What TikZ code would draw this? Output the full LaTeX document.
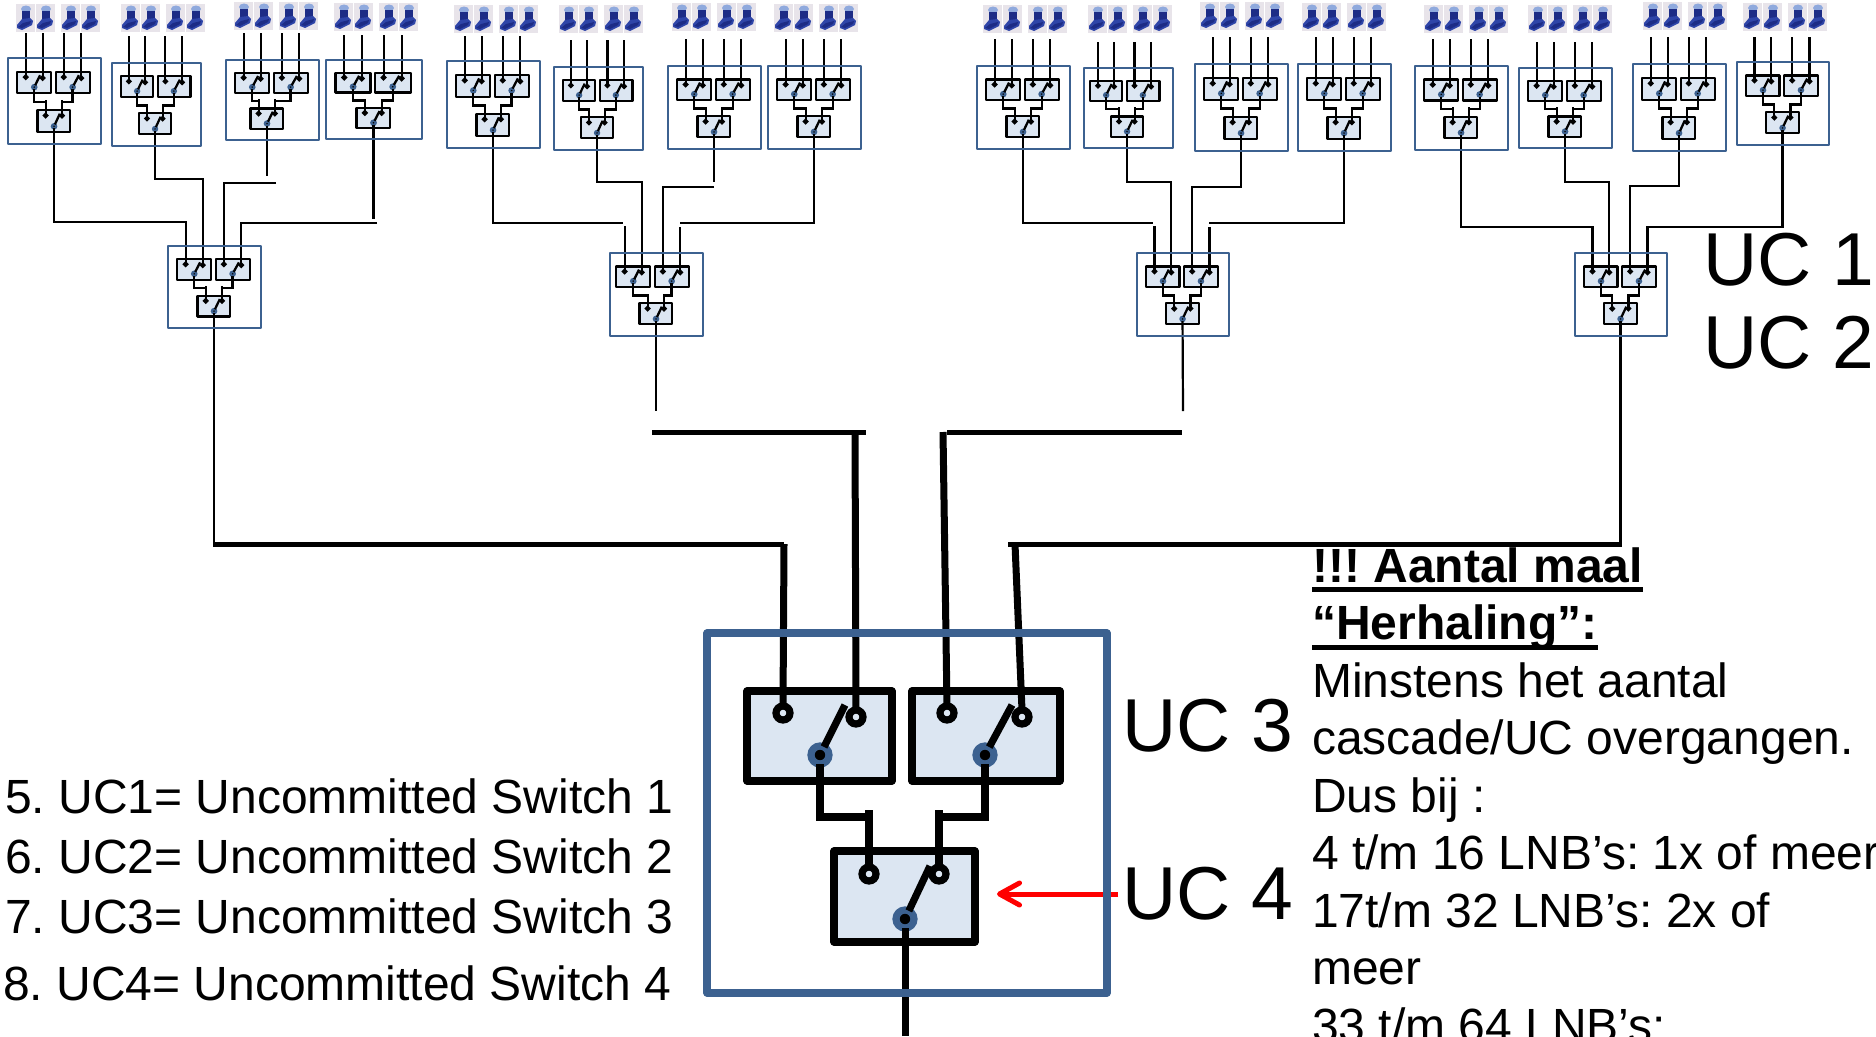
\documentclass[tikz,border=0pt]{standalone}
\usepackage{fontspec}
\setmainfont{Liberation Sans}
\frenchspacing
\usetikzlibrary{
	arrows.meta
}
\definecolor{frameblue}{HTML}{3C6190}
\definecolor{boxfill}{HTML}{DCE6F2}
\definecolor{lnbgrey}{HTML}{E8E4EA}
\definecolor{lnbdome}{HTML}{8FA9DD}
\definecolor{lnbnavy}{HTML}{1D2C86}
\definecolor{lnbfoot}{HTML}{2F45A8}
\pgfdeclarelayer{frames}
\pgfsetlayers{main,frames}

\newcommand{\thickunder}[1]{\setbox0=\hbox{#1}\rlap{\rule[-10pt]{\wd0}{5pt}}\box0}

\tikzset{
    ucframe/.style={rectangle, draw=frameblue, inner sep=0pt, outer sep=0pt, line join=round, line width=\lw pt},
    swbox/.style={rectangle, draw=black, fill=boxfill, inner sep=0pt, outer sep=0pt, line join=round},
    contact/.style={circle, draw=black, fill=\contactfill, inner sep=0pt, outer sep=0pt, minimum size=14*\sx},
    pivot/.style={circle, draw=frameblue, fill=black, inner sep=0pt, outer sep=0pt, minimum size=18*\sx},
    lnbbg/.style={rectangle, fill=lnbgrey, inner sep=0pt, outer sep=0pt, minimum width=19, minimum height=28},
    thinwire/.style={line width=2.2pt},
    busline/.style={line width=5pt},
    busdrop/.style={line width=7pt},
    bigtext/.style={anchor=base west, inner sep=0pt, font=\fontsize{75}{75}\selectfont},
    listtext/.style={anchor=base west, inner sep=0pt, font=\fontsize{48}{57.5}\selectfont},
    notetext/.style={anchor=north west, align=left, inner sep=0pt, font=\fontsize{48}{57.5}\selectfont},
    redarrow/.style={red, line width=5pt, -{Straight Barb[length=20pt,width=22pt,round]}}
}

% one switch unit: name, left, top, width, height, shift of upper switches, shift of lower switch
\newcommand{\ucunit}[7]{%
  \pgfmathsetmacro{\sx}{#4/400}%
  \pgfmathsetmacro{\sy}{#5/360}%
  \pgfmathsetmacro{\lw}{0.8+6.4*\sx}%
  \ifdim#4pt<200pt \def\contactfill{black}\else\def\contactfill{boxfill}\fi
  \begin{pgfonlayer}{frames}
  \node[ucframe, minimum width=#4, minimum height=#5] (#1) at ({#2+#4/2},{#3+#5/2}) {};
  \end{pgfonlayer}
  \begin{scope}[line width=\lw pt]
  \begin{scope}[xshift=#6]
  \node[swbox, minimum width=145*\sx, minimum height=90*\sy] (#1-s1) at ({#2+112.5*\sx},{#3+103*\sy}) {};
  \node[swbox, minimum width=148*\sx, minimum height=90*\sy] (#1-s2) at ({#2+279*\sx},{#3+103*\sy}) {};
  \node[contact] (#1-a) at ({#2+76*\sx},{#3+80*\sy}) {};
  \node[contact] (#1-b) at ({#2+149*\sx},{#3+84*\sy}) {};
  \node[contact] (#1-c) at ({#2+240*\sx},{#3+80*\sy}) {};
  \node[contact] (#1-d) at ({#2+315*\sx},{#3+84*\sy}) {};
  \node[pivot] (#1-p1) at ({#2+113*\sx},{#3+122*\sy}) {};
  \node[pivot] (#1-p2) at ({#2+278*\sx},{#3+122*\sy}) {};
  \draw (#1-p1) -- ({#2+138*\sx},{#3+72*\sy});
  \draw (#1-p2) -- ({#2+305*\sx},{#3+72*\sy});
  \end{scope}
  \begin{scope}[xshift=#7]
  \node[swbox, minimum width=141*\sx, minimum height=91*\sy] (#1-s3) at ({#2+197.5*\sx},{#3+263.5*\sy}) {};
  \node[contact] (#1-e) at ({#2+162*\sx},{#3+241*\sy}) {};
  \node[contact] (#1-f) at ({#2+232*\sx},{#3+241*\sy}) {};
  \node[pivot] (#1-out) at ({#2+198*\sx},{#3+286*\sy}) {};
  \draw (#1-out) -- ({#2+223*\sx},{#3+233*\sy});
  \end{scope}
  % inner wires
  \draw (#1-p1.south) |- (#1-e.north |- 0,{#3+184*\sy});
  \draw (#1-p2.south) |- (#1-f.north |- 0,{#3+184*\sy});
  \draw (#1-e.north) -- ++(0,{-57*\sy});
  \draw (#1-f.north) -- ++(0,{-57*\sy});
  \end{scope}
}

% one LNB picture
\newcommand{\lnbicon}[3]{%
  \node[lnbbg] (#1) at (#2,#3) {};
  \begin{scope}[shift={(#1.center)}]
  \fill[lnbdome] (1,-9) ellipse (5 and 3.5);
  \fill[lnbnavy] (-3.5,-7) -- (4.5,-7) -- (4.5,2) -- (-3.5,2) -- cycle;
  \fill[lnbfoot] (-8,7) -- (-3,1) -- (5,0) -- (8,3) -- (7,7) -- (-3,12) -- (-8,10) -- cycle;
  \fill[lnbnavy] (-7,9) -- (-2,5) -- (6,3) -- (5,6) -- (-3,10) -- cycle;
  \end{scope}
}

% four LNB's above a unit: unit, x of first, y, top of the wires
\newcommand{\lnbrow}[4]{%
  \lnbicon{#1-l1}{#2}{#3}
  \lnbicon{#1-l2}{#2+20}{#3}
  \lnbicon{#1-l3}{#2+45}{#3}
  \lnbicon{#1-l4}{#2+65}{#3}
  \draw[thinwire] (#1-a.north |- 0,#4) -- (#1-a.north);
  \draw[thinwire] (#1-b.north |- 0,#4) -- (#1-b.north);
  \draw[thinwire] (#1-c.north |- 0,#4) -- (#1-c.north);
  \draw[thinwire] (#1-d.north |- 0,#4) -- (#1-d.north);
}

\begin{document}
\begin{tikzpicture}[x=1pt, y=-1pt]
\clip (0,0) rectangle (1876,1036);

% Units
\ucunit{TA}{8}{58}{93}{86}{0}{0}
\ucunit{TB}{112}{63}{89}{83}{0}{-1}
\ucunit{TC}{226}{60}{93}{80}{0}{-5}
\ucunit{TD}{326}{60}{96}{79}{0}{0}
\ucunit{TE}{447}{61}{93}{87}{0}{0}
\ucunit{TF}{554}{67}{89}{83}{0}{-1}
\ucunit{TG}{668}{66}{93}{83}{0}{0}
\ucunit{TH}{768}{66}{93}{83}{0}{0}
\ucunit{TI}{977}{66}{93}{83}{0}{0}
\ucunit{TJ}{1084}{68}{89}{80}{-3}{-1}
\ucunit{TK}{1195}{64}{93}{87}{0}{0}
\ucunit{TL}{1298}{64}{93}{87}{0}{0}
\ucunit{TM}{1415}{66}{93}{84}{0}{0}
\ucunit{TN}{1519}{68}{93}{80}{0}{0}
\ucunit{TO}{1633}{64}{93}{87}{0}{0}
\ucunit{TP}{1737}{62}{92}{83}{0}{0}
\ucunit{MA}{168}{246}{93}{82}{0}{0}
\ucunit{MB}{610}{253}{93}{83}{-3}{0}
\ucunit{MC}{1137}{253}{92}{83}{0}{0}
\ucunit{MD}{1575}{253}{92}{83}{0}{0}
\ucunit{main}{707}{633}{400}{360}{0}{0}

% LNB's
\lnbrow{TA}{25}{18}{33}
\lnbrow{TB}{130}{18}{36}
\lnbrow{TC}{243}{16}{33}
\lnbrow{TD}{343}{17}{35}
\lnbrow{TE}{463}{19}{36}
\lnbrow{TF}{568}{19}{40}
\lnbrow{TG}{681}{17}{39}
\lnbrow{TH}{783}{18}{39}
\lnbrow{TI}{992}{19}{39}
\lnbrow{TJ}{1097}{19}{42}
\lnbrow{TK}{1209}{16}{37}
\lnbrow{TL}{1311}{17}{37}
\lnbrow{TM}{1433}{19}{39}
\lnbrow{TN}{1537}{19}{42}
\lnbrow{TO}{1652}{16}{37}
\lnbrow{TP}{1752}{17}{37}

% Free ends
\coordinate (gapcup) at (266,176);
\coordinate (gapcdown) at (276,183);
\coordinate (gapdup) at (374,219);
\coordinate (gapddown) at (377,223);
\coordinate (gapeup) at (623,223);
\coordinate (gapedown) at (624,226);
\coordinate (gapgup) at (714,182);
\coordinate (gapgdown) at (714,187);
\coordinate (gaphup) at (680,223);
\coordinate (gaphdown) at (680,227);
\coordinate (gapiup) at (1153,223);
\coordinate (gapidown) at (1154,226);
\coordinate (gaplup) at (1209,223);
\coordinate (gapldown) at (1210,227);

% Connections to the middle row
\draw[thinwire] (TA-out.south) -- (TA-out.south |- 0,222) -| (MA-a.north);
\draw[thinwire] (TB-out.south) -- (TB-out.south |- 0,179) -| (MA-b.north);
\draw[thinwire] (TC-out.south) -- (TC-out.south |- gapcup);
\draw[thinwire] (gapcdown) -| (MA-c.north);
\draw[thinwire] (TD-out.south) -- (TD-out.south |- gapdup);
\draw[thinwire] (gapddown) -| (MA-d.north);

\draw[thinwire] (TE-out.south) |- (gapeup);
\draw[thinwire] (MB-a.north |- gapedown) -- (MB-a.north);
\draw[thinwire] (TF-out.south) -- (TF-out.south |- 0,182) -| (MB-b.north);
\draw[thinwire] (TG-out.south) -- (TG-out.south |- gapgup);
\draw[thinwire] (gapgdown) -| (MB-c.north);
\draw[thinwire] (TH-out.south) |- (gaphup);
\draw[thinwire] (MB-d.north |- gaphdown) -- (MB-d.north);

\draw[thinwire] (TI-out.south) |- (gapiup);
\draw[thinwire] (MC-a.north |- gapidown) -- (MC-a.north);
\draw[thinwire] (TJ-out.south) -- (TJ-out.south |- 0,182) -| (MC-b.north);
\draw[thinwire] (TK-out.south) -- (TK-out.south |- 0,187) -| (MC-c.north);
\draw[thinwire] (TL-out.south) |- (gaplup);
\draw[thinwire] (MC-d.north |- gapldown) -- (MC-d.north);

\draw[thinwire] (TM-out.south) -- (TM-out.south |- 0,227) -| (MD-a.north);
\draw[thinwire] (TN-out.south) -- (TN-out.south |- 0,182) -| (MD-b.north);
\draw[thinwire] (TO-out.south) -- (TO-out.south |- 0,186) -| (MD-c.north);
\draw[thinwire] (TP-out.south) -- (TP-out.south |- 0,227) -| (MD-d.north);

% Connections to the big unit
\coordinate (busaleft) at (213,544);
\coordinate (busaright) at (784,544);
\coordinate (bbend) at (656,411);
\coordinate (busbleft) at (652,432);
\coordinate (busbright) at (866,432);
\coordinate (busbdrop) at (855,432);
\coordinate (buscleft) at (947,432);
\coordinate (buscdrop) at (943,432);
\coordinate (buscright) at (1182,432);
\coordinate (cbend) at (1183,411);
\coordinate (busdleft) at (1008,544);
\coordinate (busddrop) at (1015,544);
\coordinate (busdright) at (1622,544);
\coordinate (mainend) at (905,1036);

\draw[thinwire] (MA-out.south) -- (MA-out.south |- busaleft);
\draw[thinwire] (MB-out.south) -- (MB-out.south |- bbend);
\draw[thinwire] (MC-out.south) -- (cbend);
\draw[thinwire] (MD-out.south) -- (MD-out.south |- busdright);
\draw[busline] (busaleft) -- (busaright);
\draw[busline] (busbleft) -- (busbright);
\draw[busline] (buscleft) -- (buscright);
\draw[busline] (busdleft) -- (busdright);
\draw[busdrop] (busaright) -- (main-a.north);
\draw[busdrop] (busbdrop) -- (main-b.north);
\draw[busdrop] (buscdrop) -- (main-c.north);
\draw[busdrop] (busddrop) -- (main-d.north);
\draw[busdrop] (main-out.south) -- (mainend);

% Labels
\node[bigtext] (ucone) at (1703,285) {UC 1};
\node[bigtext] (uctwo) at (1703,368) {UC 2};
\node[bigtext] (ucthree) at (1122,751) {UC 3};
\node[bigtext] (ucfour) at (1122,919) {UC 4};
\coordinate (redtip) at (997,894);
\draw[redarrow] ([xshift=-4pt]ucfour.west |- redtip) -- (redtip);

\node[listtext] (listone) at (5,813) {5. UC1= Uncommitted Switch 1};
\node[listtext] (listtwo) at (5,873) {6. UC2= Uncommitted Switch 2};
\node[listtext] (listthree) at (5,933) {7. UC3= Uncommitted Switch 3};
\node[listtext] (listfour) at (3,1000) {8. UC4= Uncommitted Switch 4};

\node[notetext] (repeatnote) at (1312,547.5) {%
\thickunder{\textbf{!!! Aantal maal}}\\
\thickunder{\textbf{“Herhaling”:}}\\
Minstens het aantal\\
cascade/UC overgangen.\\
Dus bij :\\
4 t/m 16 LNB’s: 1x of meer\\
17t/m 32 LNB’s: 2x of\\
meer\\
33 t/m 64 LNB’s:};

\end{tikzpicture}
\end{document}
